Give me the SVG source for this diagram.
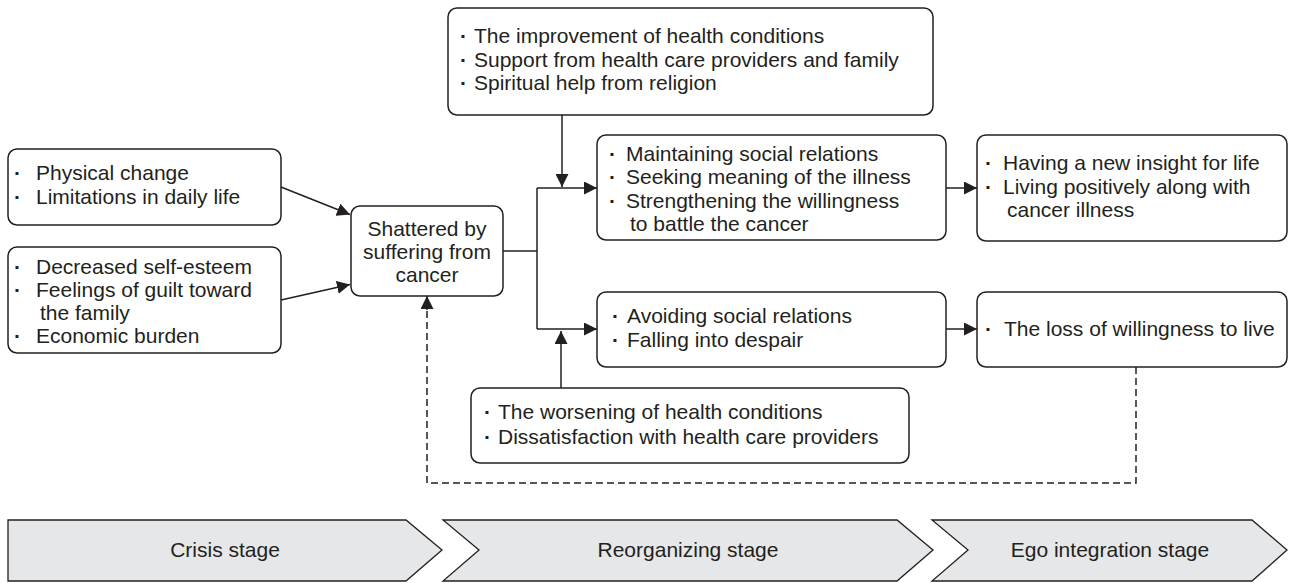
<svg xmlns="http://www.w3.org/2000/svg" width="1292" height="583" viewBox="0 0 1292 583">
<style>
  .box { fill: #ffffff; stroke: #231f20; stroke-width: 1.5; }
  .chev { fill: #e6e7e8; stroke: #231f20; stroke-width: 1.3; }
  text { font-family: "Liberation Sans", Arial, sans-serif; font-size: 21px; fill: #231f20; }
  .c { text-anchor: middle; }
  .b { font-weight: bold; }
  .line { fill: none; stroke: #231f20; stroke-width: 1.5; }
  .dash { fill: none; stroke: #231f20; stroke-width: 1.5; stroke-dasharray: 7 4; }
</style>
<defs>
  <marker id="arr" markerUnits="userSpaceOnUse" markerWidth="13" markerHeight="13" refX="13" refY="6.5" orient="auto">
    <path d="M0,0 L13,6.5 L0,13 z" fill="#231f20"/>
  </marker>
</defs>

<g id="connectors">
  <line class="line" x1="281" y1="187" x2="350" y2="214.5" marker-end="url(#arr)"/>
  <line class="line" x1="281" y1="300" x2="350" y2="284.5" marker-end="url(#arr)"/>
  <polyline class="line" points="503,251 537,251"/>
  <polyline class="line" points="537,188 537,329"/>
  <line class="line" x1="537" y1="188" x2="597" y2="188" marker-end="url(#arr)"/>
  <line class="line" x1="537" y1="329" x2="597" y2="329" marker-end="url(#arr)"/>
  <line class="line" x1="562" y1="115" x2="562" y2="187" marker-end="url(#arr)"/>
  <line class="line" x1="561" y1="388" x2="561" y2="331" marker-end="url(#arr)"/>
  <line class="line" x1="946" y1="188" x2="977" y2="188" marker-end="url(#arr)"/>
  <line class="line" x1="946" y1="329" x2="977" y2="329" marker-end="url(#arr)"/>
  <polyline class="dash" points="1136,367 1136,483 427,483 427,310"/>
  <line class="line" x1="427" y1="310" x2="427" y2="296" marker-end="url(#arr)"/>
</g>

<g id="n-physical">
  <rect class="box" x="8" y="149" width="273" height="76" rx="9"/>
  <text><tspan class="b" x="14" y="180">·</tspan><tspan x="36" y="180">Physical change</tspan><tspan class="b" x="14" y="204">·</tspan><tspan x="36" y="204">Limitations in daily life</tspan></text>
</g>

<g id="n-esteem">
  <rect class="box" x="8" y="247" width="273" height="106" rx="9"/>
  <text><tspan class="b" x="14" y="274">·</tspan><tspan x="36" y="274">Decreased self-esteem</tspan><tspan class="b" x="14" y="297">·</tspan><tspan x="36" y="297">Feelings of guilt toward</tspan><tspan x="40" y="320">the family</tspan><tspan class="b" x="14" y="343">·</tspan><tspan x="36" y="343">Economic burden</tspan></text>
</g>

<g id="n-shattered">
  <rect class="box" x="351" y="206" width="152" height="90" rx="9"/>
  <text class="c"><tspan x="427" y="236">Shattered by</tspan><tspan x="427" y="259">suffering from</tspan><tspan x="427" y="282">cancer</tspan></text>
</g>

<g id="n-improve">
  <rect class="box" x="448" y="8" width="485" height="107" rx="9"/>
  <text><tspan class="b" x="460" y="43">·</tspan><tspan x="474" y="43">The improvement of health conditions</tspan><tspan class="b" x="460" y="67">·</tspan><tspan x="474" y="67">Support from health care providers and family</tspan><tspan class="b" x="460" y="90">·</tspan><tspan x="474" y="90">Spiritual help from religion</tspan></text>
</g>

<g id="n-maintain">
  <rect class="box" x="597" y="135" width="349" height="105" rx="9"/>
  <text><tspan class="b" x="609" y="161">·</tspan><tspan x="626" y="161">Maintaining social relations</tspan><tspan class="b" x="609" y="184">·</tspan><tspan x="626" y="184">Seeking meaning of the illness</tspan><tspan class="b" x="609" y="208">·</tspan><tspan x="626" y="208">Strengthening the willingness</tspan><tspan x="630" y="231">to battle the cancer</tspan></text>
</g>

<g id="n-insight">
  <rect class="box" x="977" y="135" width="310" height="106" rx="9"/>
  <text><tspan class="b" x="985" y="170">·</tspan><tspan x="1003" y="170">Having a new insight for life</tspan><tspan class="b" x="985" y="194">·</tspan><tspan x="1003" y="194">Living positively along with</tspan><tspan x="1007" y="217">cancer illness</tspan></text>
</g>

<g id="n-avoid">
  <rect class="box" x="597" y="292" width="349" height="75" rx="9"/>
  <text><tspan class="b" x="612" y="323">·</tspan><tspan x="627" y="323">Avoiding social relations</tspan><tspan class="b" x="612" y="347">·</tspan><tspan x="627" y="347">Falling into despair</tspan></text>
</g>

<g id="n-loss">
  <rect class="box" x="977" y="292" width="310" height="75" rx="9"/>
  <text><tspan class="b" x="985" y="336">·</tspan><tspan x="1004" y="336">The loss of willingness to live</tspan></text>
</g>

<g id="n-worsen">
  <rect class="box" x="471" y="388" width="438" height="75" rx="9"/>
  <text><tspan class="b" x="484" y="419">·</tspan><tspan x="498" y="419">The worsening of health conditions</tspan><tspan class="b" x="484" y="444">·</tspan><tspan x="498" y="444">Dissatisfaction with health care providers</tspan></text>
</g>

<g id="stage-crisis">
  <polygon class="chev" points="8,520 406,520 442,550 406,581 8,581"/>
  <text class="c" x="225" y="557">Crisis stage</text>
</g>
<g id="stage-reorg">
  <polygon class="chev" points="443,520 897,520 933,550 897,581 443,581 479,550"/>
  <text class="c" x="688" y="557">Reorganizing stage</text>
</g>
<g id="stage-ego">
  <polygon class="chev" points="932,520 1252,520 1287,550 1252,581 932,581 968,550"/>
  <text class="c" x="1110" y="557">Ego integration stage</text>
</g>
</svg>
